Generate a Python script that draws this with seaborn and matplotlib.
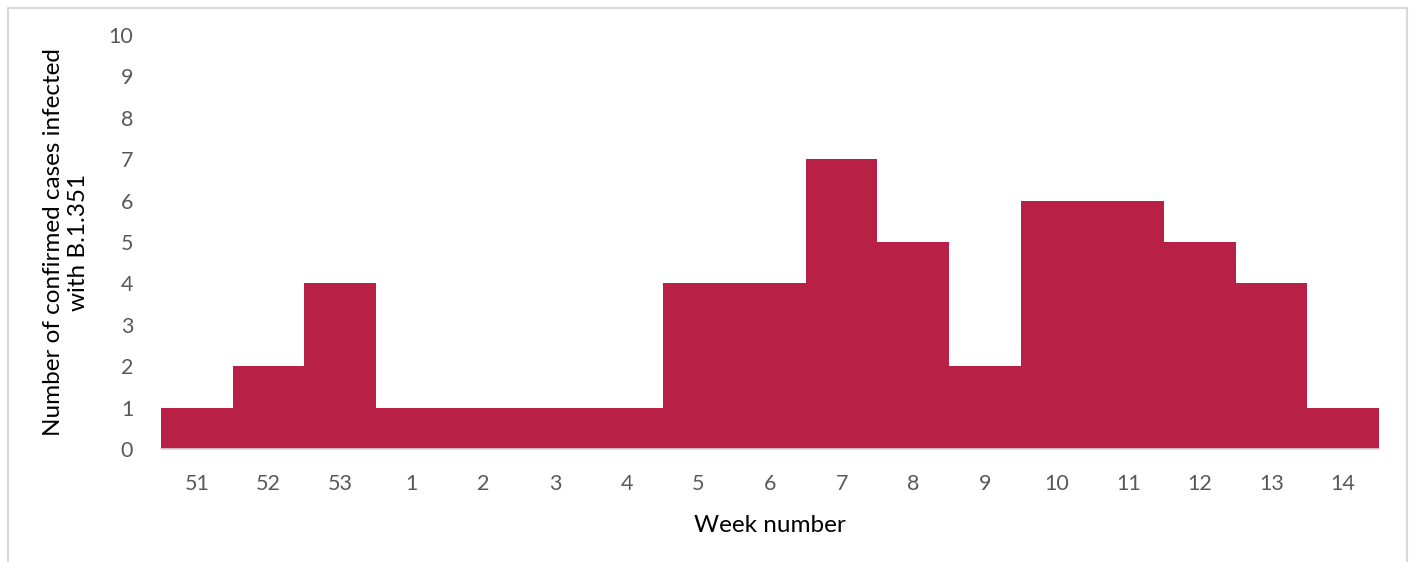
import matplotlib
matplotlib.use("Agg")
import matplotlib.pyplot as plt
import seaborn as sns
import pandas as pd
from matplotlib.patches import Rectangle

# Weekly counts of confirmed B.1.351 cases
weeks = ["51", "52", "53", "1", "2", "3", "4", "5", "6", "7", "8", "9", "10", "11", "12", "13", "14"]
cases = [1, 2, 4, 1, 1, 1, 1, 4, 4, 7, 5, 2, 6, 6, 5, 4, 1]
y_ticks = list(range(0, 11))

df = pd.DataFrame({"week": weeks, "cases": cases})

sns.set_theme(style="white")
plt.rcParams["font.family"] = ["Lato", "DejaVu Sans"]

W, H = 1413, 562
fig = plt.figure(figsize=(W / 100, H / 100), dpi=100)
ax = fig.add_axes([161 / W, 1 - 449 / H, (1379 - 161) / W, (449 - 35) / H])

sns.barplot(data=df, x="week", y="cases", order=weeks, color="#B92046",
            saturation=1, width=1.0, ax=ax, linewidth=0)

ax.set_xlim(-0.5, len(weeks) - 0.5)
ax.set_ylim(0, 10)
ax.set_yticks(y_ticks)
ax.tick_params(axis="both", length=0, labelsize=15.5, colors="#595959")
ax.tick_params(axis="y", pad=20)
ax.tick_params(axis="x", pad=18)

for s in ["top", "right", "left"]:
    ax.spines[s].set_visible(False)
ax.spines["bottom"].set_color("#D9D9D9")
ax.spines["bottom"].set_linewidth(1.2)

ax.set_xlabel("Week number", fontsize=17.5, color="black", labelpad=15)
ax.set_ylabel("Number of confirmed cases infected\nwith B.1.351", fontsize=17.5,
              color="black", labelpad=14, linespacing=1.25)

# Outer chart frame (open at the bottom)
fig.patches.append(Rectangle((8 / W, -0.1), (1407 - 8) / W, 1.1 - 8 / H,
                             transform=fig.transFigure, fill=False,
                             edgecolor="#D9D9D9", linewidth=1.5))

fig.savefig("out.png", dpi=100)
